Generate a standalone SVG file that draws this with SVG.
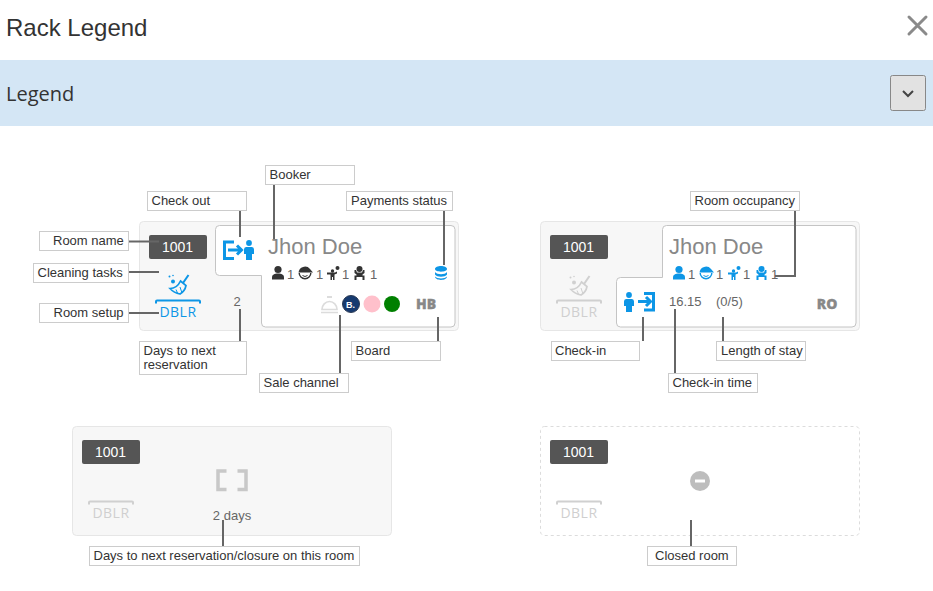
<svg xmlns="http://www.w3.org/2000/svg" xmlns:xlink="http://www.w3.org/1999/xlink" width="933" height="591" viewBox="0 0 933 591">
<style>
text{font-family:"Liberation Sans",Arial,sans-serif}
.card{fill:#f7f7f7;stroke:#e6e6e6;stroke-width:1}
.closed{fill:#fff;stroke:#dcdcdc;stroke-width:1;stroke-dasharray:3 3}
.inner{fill:#fff;stroke:#c4c4c4;stroke-width:1}
.badge{fill:#555}
.badgeT{font-size:14px;fill:#fff;text-anchor:middle}
.lb{fill:#fff;stroke:#ccc;stroke-width:1}
.lt{font-size:13px;fill:#333}
.conn{fill:none;stroke:#666;stroke-width:2}
.small{font-size:13px;fill:#666}
.guest{font-size:13px;fill:#666}
.name{font-size:22px;fill:#888}
.setup{font-family:"Open Sans",sans-serif;font-size:14px;letter-spacing:.5px;text-anchor:middle}
.board{font-family:"Open Sans",sans-serif;font-size:14px;font-weight:800;fill:#888;stroke:#888;stroke-width:.3;text-anchor:middle}
.blue{fill:#0d96e6;color:#0d96e6}
.dark{fill:#333;color:#333}
.grey{fill:#d0d0d0;color:#d0d0d0}
</style>
<defs>
<g id="adult"><circle cx="6" cy="3.500" r="3.600"/><path d="M0 13.500V11.500C0 8.500 2.500 7.500 6 7.500S12 8.500 12 11.500V13.500Z"/></g>
<g id="child"><path d="M.5 6.500A6.500 6.500 0 0 1 12 3L15 6.500Z"/><path d="M1.200 7A5.700 5.700 0 0 0 12.800 7" fill="none" stroke="currentColor" stroke-width="1.400"/><path d="M4.500 9.500Q7 11.500 9.500 9.500" fill="none" stroke="currentColor" stroke-width="1"/></g>
<g id="baby"><circle cx="10.500" cy="2" r="2"/><circle cx="5.500" cy="5" r="1.700"/><path d="M0 6.500H8L10 5.500V7.500L7.500 8.500V14H6V11H5V14H3.500V8.500H0Z"/></g>
<g id="infant"><circle cx="5.500" cy="3" r="3"/><path d="M.5 4H2L3 6.500H8L9 4H10.500V7L8.500 8.500V9.500H10.500V14H8.500V11H2.500V14H.5V9.500H2.500V8.500L.5 7Z"/></g>
<g id="person"><circle cx="5" cy="3" r="2.900"/><path d="M2 7H8Q10 7 10 9.500V14H8V20H2V14H0V9.500Q0 7 2 7Z"/></g>
<g id="broom" fill="none" stroke="currentColor"><path d="M20.500 1L15 9" stroke-width="2"/><path d="M12.500 7L18 11.500Q17 17 12 20Q6 19 2 14.500Q9 14.500 12.500 7Z" stroke-width="1.700"/><path d="M8 15.500L9.500 19M12 13L14 19" stroke-width="1"/><g stroke="none" fill="currentColor"><circle cx="5" cy="7.500" r="2"/><circle cx="1.500" cy="2.500" r="1"/><circle cx="5" cy="1.500" r=".8"/></g></g>
<g id="shelf"><path d="M0 3.500V1.500Q0 .5 1 .5H43Q44 .5 44 1.500V3.500" fill="none" stroke="currentColor" stroke-width="2"/></g>
</defs>

<g id="header">
<rect width="933" height="591" fill="#fff"/>
<text x="6" y="36" font-size="24" fill="#333">Rack Legend</text>
<path d="M909 17L926 34M926 17L909 34" stroke="#8a8a8a" stroke-width="3" stroke-linecap="round" fill="none"/>
<rect x="0" y="60" width="933" height="66" fill="#d4e6f5"/>
<text x="6" y="101" font-size="20" style="font-family:'Open Sans',sans-serif" fill="#333">Legend</text>
<rect x="890.500" y="75.500" width="35" height="35" rx="2" fill="#e2e2e2" stroke="#888"/>
<path d="M903 91L908 96L913 91" fill="none" stroke="#444" stroke-width="2"/>
</g>

<g id="room-booked-checkout">
<rect class="card" x="139.500" y="221.500" width="319" height="109" rx="4"/>
<path class="inner" d="M219.500 225.500H451A4 4 0 0 1 455 229.500V323A4 4 0 0 1 451 327H265.500A4 4 0 0 1 261.500 323V275.500H219.500A4 4 0 0 1 215.500 271.500V229.500A4 4 0 0 1 219.500 225.500Z"/>
<rect class="badge" x="149" y="235" width="58" height="24" rx="2"/>
<text class="badgeT" x="177.500" y="252">1001</text>
<use href="#broom" x="168" y="274" class="blue"/>
<use href="#shelf" x="156" y="300" class="blue"/>
<text class="setup" x="178" y="317" fill="#0d96e6">DBLR</text>
<path d="M234 242H224.500V258.500H234M228 250H241M237 245.500L241.500 250L237 254.500" fill="none" stroke="#0d96e6" stroke-width="3"/>
<use href="#person" x="244" y="240" class="blue"/>
<text class="name" x="268" y="254">Jhon Doe</text>
<use href="#adult" x="272" y="266" class="dark"/><text class="guest" x="287" y="279">1</text>
<use href="#child" x="298" y="266" class="dark"/><text class="guest" x="316" y="279">1</text>
<use href="#baby" x="327" y="266" class="dark"/><text class="guest" x="342" y="279">1</text>
<use href="#infant" x="354" y="266" class="dark"/><text class="guest" x="370" y="279">1</text>
<path d="M435 269C435 265 447 265 447 269C447 272.500 435 272.500 435 269ZM435 272C437 275 445 275 447 272V274.500C445 277.500 437 277.500 435 274.500ZM435 276.500C437 279 445 279 447 276.500C447 281 435 281 435 276.500Z" fill="#0d96e6"/>
<text class="small" x="237" y="306" text-anchor="middle">2</text>
<path d="M321 312.500H338M322 309.500A7.500 8 0 0 1 337 309.500Z" fill="none" stroke="#dcdcdc" stroke-width="1.700"/><rect x="327" y="296" width="5" height="2" fill="#dcdcdc"/>
<circle cx="351" cy="304" r="8.500" fill="#163a70" stroke="#2b3a55"/>
<text x="350.500" y="307.500" font-size="9" font-weight="700" fill="#fff" text-anchor="middle">B.</text>
<circle cx="372" cy="304" r="8.500" fill="#ffc0cb"/>
<circle cx="392" cy="304" r="8" fill="#008000"/>
<text class="board" x="426" y="309">HB</text>
</g>

<g id="room-booked-checkin">
<rect class="card" x="540.500" y="221.500" width="319" height="109" rx="4"/>
<path class="inner" d="M666.500 225.500H852A4 4 0 0 1 856 229.500V323A4 4 0 0 1 852 327H620.500A4 4 0 0 1 616.500 323V281.500A4 4 0 0 1 620.500 277.500H662.500V229.500A4 4 0 0 1 666.500 225.500Z"/>
<rect class="badge" x="550" y="235" width="58" height="24" rx="2"/>
<text class="badgeT" x="578.500" y="252">1001</text>
<use href="#broom" x="569" y="275" class="grey"/>
<use href="#shelf" x="557" y="300" class="grey"/>
<text class="setup" x="579" y="317" fill="#cfcfcf">DBLR</text>
<use href="#person" x="624" y="292" class="blue"/>
<path d="M644 293.500H653.500V310H644M638 301.500H650M646 297L650.500 301.500L646 306" fill="none" stroke="#0d96e6" stroke-width="3"/>
<text class="name" x="669" y="254">Jhon Doe</text>
<use href="#adult" x="673" y="266" class="blue"/><text class="guest" x="688" y="279">1</text>
<use href="#child" x="699" y="266" class="blue"/><text class="guest" x="716" y="279">1</text>
<use href="#baby" x="728" y="266" class="blue"/><text class="guest" x="743" y="279">1</text>
<use href="#infant" x="756" y="266" class="blue"/><text class="guest" x="771" y="279">1</text>
<text class="small" x="669" y="306">16.15</text>
<text class="small" x="716" y="306">(0/5)</text>
<text class="board" x="827" y="309">RO</text>
</g>

<g id="room-free">
<rect class="card" x="72.500" y="426.500" width="319" height="109" rx="4"/>
<rect class="badge" x="82" y="440" width="58" height="24" rx="2"/>
<text class="badgeT" x="110.500" y="457">1001</text>
<use href="#shelf" x="89" y="501" class="grey"/>
<text class="setup" x="111" y="518" fill="#cfcfcf">DBLR</text>
<path d="M226.500 471H218V489.500H226.500M237.500 471H246V489.500H237.500" fill="none" stroke="#c8c8c8" stroke-width="3.500"/>
<text class="small" x="232" y="520" text-anchor="middle">2 days</text>
</g>

<g id="room-closed">
<rect class="closed" x="540.500" y="426.500" width="319" height="109" rx="4"/>
<rect class="badge" x="550" y="440" width="58" height="24" rx="2"/>
<text class="badgeT" x="578.500" y="457">1001</text>
<use href="#shelf" x="557" y="501" class="grey"/>
<text class="setup" x="579" y="518" fill="#cfcfcf">DBLR</text>
<circle cx="700" cy="481" r="10" fill="#bdbdbd"/>
<rect x="695" y="479.500" width="10" height="3" fill="#fff"/>
</g>

<g id="connectors">
<path class="conn" d="M240 211V237"/>
<path class="conn" d="M129 241.500H159"/>
<path class="conn" d="M129 272H159"/>
<path class="conn" d="M129 313H159"/>
<path class="conn" d="M274 185V239"/>
<path class="conn" d="M444 211V265"/>
<path class="conn" d="M240 309V341"/>
<path class="conn" d="M438 317V341"/>
<path class="conn" d="M340 315V373"/>
<path class="conn" d="M795 211V276H775"/>
<path class="conn" d="M643 317V341"/>
<path class="conn" d="M675 309V373"/>
<path class="conn" d="M723 317V341"/>
<path class="conn" d="M223 520V546"/>
<path class="conn" d="M691 520V546"/>
</g>

<g id="label-check-out"><rect class="lb" x="147.500" y="191.500" width="99" height="19"/><text class="lt" x="151.500" y="205">Check out</text></g>
<g id="label-room-name"><rect class="lb" x="39.500" y="231.500" width="89" height="19"/><text class="lt" x="53" y="245">Room name</text></g>
<g id="label-cleaning"><rect class="lb" x="33.500" y="263.500" width="95" height="19"/><text class="lt" x="37.500" y="277">Cleaning tasks</text></g>
<g id="label-room-setup"><rect class="lb" x="39.500" y="303.500" width="89" height="19"/><text class="lt" x="53.500" y="317">Room setup</text></g>
<g id="label-booker"><rect class="lb" x="265.500" y="165.500" width="89" height="19"/><text class="lt" x="269.500" y="179">Booker</text></g>
<g id="label-payments"><rect class="lb" x="346.500" y="191.500" width="106" height="19"/><text class="lt" x="351" y="205">Payments status</text></g>
<g id="label-days"><rect class="lb" x="139.500" y="341.500" width="107" height="33"/><text class="lt" x="143.500" y="355">Days to next</text><text class="lt" x="143.500" y="369">reservation</text></g>
<g id="label-board"><rect class="lb" x="351.500" y="341.500" width="89" height="19"/><text class="lt" x="355.500" y="355">Board</text></g>
<g id="label-sale"><rect class="lb" x="259.500" y="373.500" width="89" height="19"/><text class="lt" x="263.500" y="387">Sale channel</text></g>
<g id="label-occupancy"><rect class="lb" x="690.500" y="191.500" width="109" height="19"/><text class="lt" x="694.500" y="205">Room occupancy</text></g>
<g id="label-checkin"><rect class="lb" x="551.500" y="341.500" width="88" height="19"/><text class="lt" x="555" y="355">Check-in</text></g>
<g id="label-length"><rect class="lb" x="716.500" y="341.500" width="89" height="19"/><text class="lt" x="721" y="355">Length of stay</text></g>
<g id="label-checkin-time"><rect class="lb" x="668.500" y="373.500" width="89" height="19"/><text class="lt" x="672.500" y="387">Check-in time</text></g>
<g id="label-days-closure"><rect class="lb" x="89.500" y="546.500" width="270" height="19"/><text class="lt" x="93.500" y="560">Days to next reservation/closure on this room</text></g>
<g id="label-closed"><rect class="lb" x="647.500" y="546.500" width="89" height="19"/><text class="lt" x="655" y="560">Closed room</text></g>
</svg>
